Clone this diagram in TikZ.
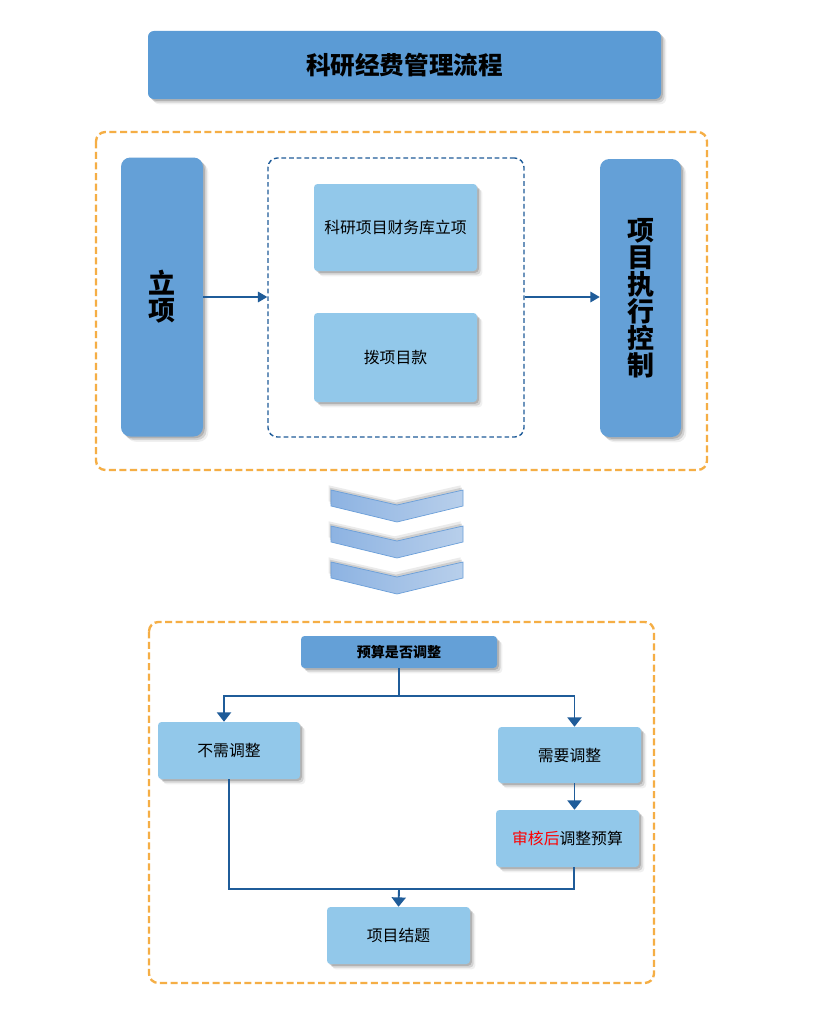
\documentclass[tikz,border=0pt]{standalone}
\usepackage{fontspec}
\setmainfont{Noto Sans CJK SC}
\usetikzlibrary{arrows.meta,shadows}

\definecolor{headblue}{HTML}{5B9BD5}
\definecolor{midblue}{HTML}{64A0D7}
\definecolor{paleblue}{HTML}{92C8EA}
\definecolor{flowblue}{HTML}{1F5C99}
\definecolor{frameorange}{HTML}{F5AE45}
\definecolor{chevleft}{HTML}{8DB3E2}
\definecolor{chevright}{HTML}{B8CFEB}
\definecolor{chevedge}{HTML}{6B9FD9}

\newcommand{\pxu}{0.03cm}

\begin{document}
\begin{tikzpicture}[x=0.03cm,y=-0.03cm,
    boxsize/.style 2 args={minimum width=#1*\pxu,minimum height=#2*\pxu},
    softshadow/.style={
      drop shadow={shadow xshift=1.5pt,shadow yshift=-1.5pt,fill=black,opacity=0.15},
      drop shadow={shadow xshift=3pt,shadow yshift=-3pt,fill=black,opacity=0.12},
      drop shadow={shadow xshift=4.5pt,shadow yshift=-4.5pt,fill=black,opacity=0.06}},
    chevshadow/.style={
      drop shadow={shadow xshift=-1pt,shadow yshift=2pt,fill=black,opacity=0.12},
      drop shadow={shadow xshift=-2pt,shadow yshift=4pt,fill=black,opacity=0.08}},
    bigbox/.style={rounded corners=8pt,fill=midblue,softshadow,inner sep=0pt,align=center,
      font=\fontsize{23}{23}\selectfont\bfseries},
    smallbox/.style={rounded corners=3pt,fill=paleblue,softshadow,inner sep=0pt,
      font=\fontsize{13.5}{16}\selectfont},
    frame/.style={draw=frameorange,line width=2pt,dash pattern=on 6pt off 3pt,rounded corners=8pt},
    link/.style={draw=flowblue,line width=1.6pt},
    arr/.style={link,-{Triangle[width=12pt,length=8pt]}},
  ]
  \useasboundingbox (0,0) rectangle (816,1009);
  \fill[white] (0,0) rectangle (816,1009);

  % title
  \node[rounded corners=5pt,fill=headblue,softshadow,boxsize={513}{68},
    font=\fontsize{21}{21}\selectfont\bfseries] (title) at (404.5,65) {科研经费管理流程};

  % upper part
  \draw[frame] (96,132) rectangle (707,470);
  \node[bigbox,boxsize={82}{279}] (lixiang) at (162,297) {立\\项};
  \node[draw=flowblue,line width=1.2pt,dash pattern=on 4pt off 2.5pt,rounded corners=8pt,
    boxsize={256}{279}] (grp) at (396,297.5) {};
  \node[smallbox,boxsize={163}{87}] (kuli) at (395.5,227.5) {科研项目财务库立项};
  \node[smallbox,boxsize={163}{89}] (bokuan) at (395.5,357.5) {拨项目款};
  \node[bigbox,boxsize={81}{278}] (exec) at (640.5,298) {项\\目\\执\\行\\控\\制};
  \draw[link,line width=1.2pt,-{Triangle[width=9pt,length=8pt]}]
    (lixiang.east) -- (lixiang.east -| grp.west);
  \draw[link,line width=1.2pt,-{Triangle[width=9pt,length=8pt]}]
    (grp.east |- lixiang.east) -- (lixiang.east -| exec.west);

  % chevrons
  \foreach \dy in {0,36,72}
  \draw[chevedge,line width=0.6pt,left color=chevleft,right color=chevright,chevshadow]
    (331,490+\dy) -- (397,505+\dy) -- (463,490+\dy) -- (463,506+\dy)
    -- (397,522+\dy) -- (331,506+\dy) -- cycle;

  % lower part
  \draw[frame] (149,622) rectangle (654,983);
  \node[rounded corners=3pt,fill=midblue,softshadow,boxsize={196}{32},inner sep=0pt,
    font=\fontsize{12}{14}\selectfont\bfseries] (ask) at (399,652) {预算是否调整};
  \node[smallbox,boxsize={142}{57}] (nochg) at (229,750.5) {不需调整};
  \node[smallbox,boxsize={143}{56}] (chg) at (569.5,755) {需要调整};
  \node[smallbox,boxsize={143}{57}] (review) at (567.5,838.5) {{\color{red}审核后}调整预算};
  \node[smallbox,boxsize={143}{57}] (close) at (398.5,935.5) {项目结题};

  \coordinate (split) at (399,696);
  \coordinate (merge) at (399,889);
  \draw[link] (ask.south) -- (split);
  \draw[arr] (split) -| ([xshift=-0.15cm]nochg.north);
  \draw[arr] (split) -| ([xshift=0.15cm]chg.north);
  \draw[arr] ([xshift=0.15cm]chg.south) -- ([xshift=0.15cm]chg.south |- review.north);
  \draw[link] (nochg.south) |- (merge) -| ([xshift=0.2cm]review.south);
  \draw[arr] (merge) -- (close.north);
\end{tikzpicture}
\end{document}
